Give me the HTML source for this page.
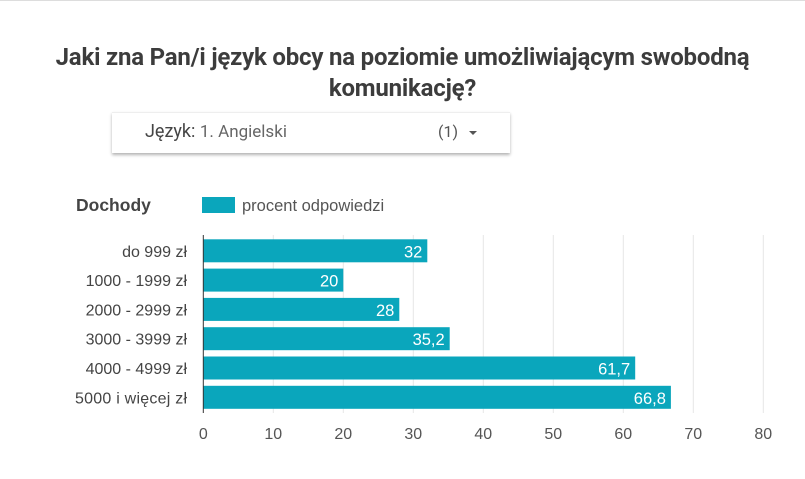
<!DOCTYPE html>
<html><head><meta charset="utf-8"><style>
body{margin:0;width:805px;height:479px;background:#fff;font-family:"Roboto","Liberation Sans",sans-serif;position:relative;overflow:hidden}
.t{position:absolute;left:0;width:805px;text-align:center;font-weight:bold;font-size:24px;color:#3c3c3c;letter-spacing:-0.2px}
#dd{position:absolute;left:112px;top:112px;width:398px;height:40px;background:#fff;box-shadow:0 2px 3px rgba(0,0,0,.3);border-top:1px solid #eee}
</style></head><body>
<div style="position:absolute;left:0;top:0;width:805px;height:1px;background:#ddd"></div>
<div class="t" style="top:43px">Jaki zna Pan/i język obcy na poziomie umożliwiającym swobodną</div>
<div class="t" style="top:74px">komunikację?</div>
<div id="dd">
<span style="position:absolute;left:33px;top:8px;font-size:18px;color:#444">Język: <span style="color:#666;font-size:17px">1. Angielski</span></span>
<span style="position:absolute;left:326px;top:9px;font-size:16px;color:#555">(1)</span>
<span style="position:absolute;left:357px;top:18px;width:0;height:0;border-left:4px solid transparent;border-right:4px solid transparent;border-top:4px solid #555"></span>
</div>
<svg id="c" width="805" height="479" style="position:absolute;left:0;top:0"></svg>
<script>
const categories=["do 999 zł","1000 - 1999 zł","2000 - 2999 zł","3000 - 3999 zł","4000 - 4999 zł","5000 i więcej zł"];
const values=[32,20,28,35.2,61.7,66.8];
const labels=["32","20","28","35,2","61,7","66,8"];
const ticks=[0,10,20,30,40,50,60,70,80];
const NS="http://www.w3.org/2000/svg",svg=document.getElementById('c');
const x=v=>203.3+v*7.0, y=i=>239.3+i*29.3, bh=23;
function mk(t,a,txt){const e=document.createElementNS(NS,t);for(const k in a)e.setAttribute(k,a[k]);if(txt!==undefined)e.textContent=txt;svg.appendChild(e);return e;}
let e;
e=mk('text',{x:76,y:211,'font-size':17.5,'font-weight':'bold',fill:'#444','font-family':'Liberation Sans'},'Dochody');


e=mk('rect',{x:202,y:197,width:33,height:16,fill:'#0aa6bc'});


e=mk('text',{x:242,y:211,'font-size':16.5,fill:'#555','font-family':'Liberation Sans'},'procent odpowiedzi');


ticks.forEach(t=>{
 if(t>0){e=mk('line',{x1:x(t),x2:x(t),y1:235,y2:413,stroke:'#e6e6e6'});
 
 }
 e=mk('text',{x:x(t),y:439,'font-size':16,fill:'#555','text-anchor':'middle','font-family':'Liberation Sans'},t);
 
 
});
values.forEach((v,i)=>{
 e=mk('rect',{x:x(0),y:y(i),width:x(v)-x(0),height:bh,fill:'#0aa6bc'});
 
 
 e=mk('text',{x:x(v)-5,y:y(i)+18,'font-size':16.5,fill:'#fff','text-anchor':'end','font-family':'Liberation Sans'},labels[i]);
 
 
 e=mk('text',{x:187,y:y(i)+17.5,'font-size':16,fill:'#444','text-anchor':'end','font-family':'Liberation Sans',textLength:categories[i]==="5000 i więcej zł"?112:undefined},categories[i]);
 if(!e.getAttribute('textLength')||e.getAttribute('textLength')==='undefined')e.removeAttribute('textLength');
 
 
});
e=mk('line',{x1:x(0),x2:x(0),y1:235,y2:413,stroke:'#333'});


</script>
</body></html>
